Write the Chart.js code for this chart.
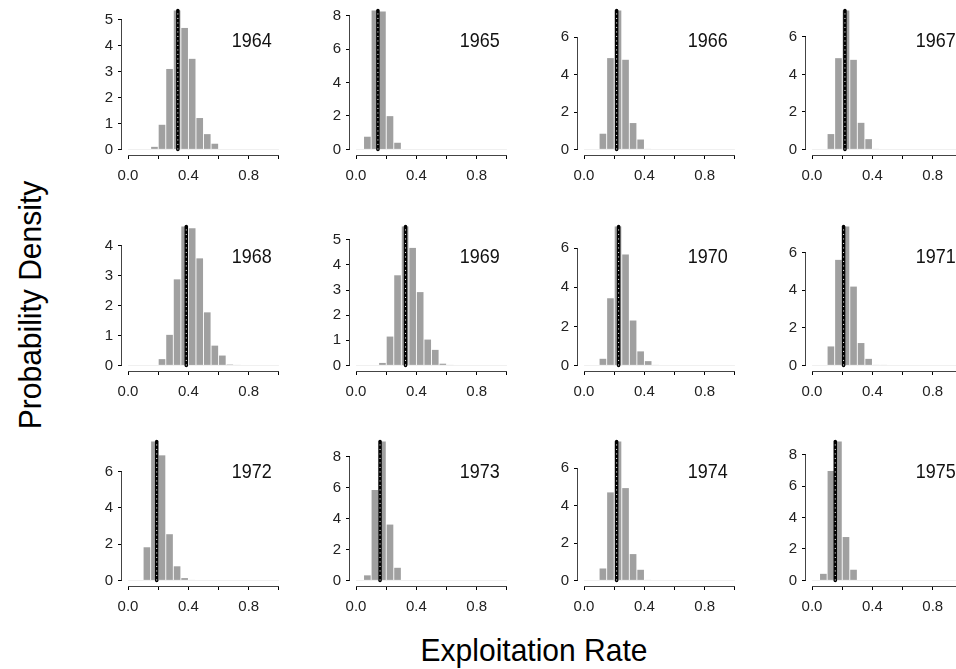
<!DOCTYPE html>
<html>
<head>
<meta charset="utf-8">
<script src="https://cdn.jsdelivr.net/npm/chart.js@4.4.1/dist/chart.umd.min.js"></script>
<style>
  html, body { margin: 0; padding: 0; background: #fff; overflow: hidden; }
  #wrap { position: relative; width: 956px; height: 669px; overflow: hidden; }
  canvas { position: absolute; }
  .title { position: absolute; font-family: "Liberation Sans", Arial, sans-serif; font-size: 30px; color: #000; white-space: nowrap; }
  #ytitle { left: 30px; top: 305px; transform: translate(-50%, -50%) rotate(-90deg) scaleY(1.05); }
  #xtitle { left: 534px; top: 650px; transform: translate(-50%, -50%) scaleY(1.05); }
</style>
</head>
<body>
<div id="wrap">
  <div class="title" id="ytitle">Probability Density</div>
  <div class="title" id="xtitle">Exploitation Rate</div>
</div>
<script>
// Data: histogram densities in 0.05-wide bins over [0, 1]
const years = [1964, 1965, 1966, 1967, 1968, 1969, 1970, 1971, 1972, 1973, 1974, 1975];
const binMids = [0.025, 0.075, 0.125, 0.175, 0.225, 0.275, 0.325, 0.375, 0.425, 0.475,
                 0.525, 0.575, 0.625, 0.675, 0.725, 0.775, 0.825, 0.875, 0.925, 0.975];

const dens1964 = [0, 0, 0, 0.1, 0.95, 3.1, 5.35, 4.68, 3.49, 1.21, 0.59, 0.22, 0, 0, 0, 0, 0, 0, 0, 0];
const dens1965 = [0, 0.76, 8.3, 8.25, 1.99, 0.4, 0, 0, 0, 0, 0, 0, 0, 0, 0, 0, 0, 0, 0, 0];
const dens1966 = [0, 0, 0.84, 4.88, 7.42, 4.79, 1.41, 0.53, 0.02, 0, 0, 0, 0, 0, 0, 0, 0, 0, 0, 0];
const dens1967 = [0, 0, 0.82, 4.87, 7.41, 4.78, 1.42, 0.55, 0.02, 0, 0, 0, 0, 0, 0, 0, 0, 0, 0, 0];
const dens1968 = [0, 0, 0, 0, 0.21, 1.02, 2.87, 4.63, 4.57, 3.57, 1.77, 0.66, 0.33, 0.03, 0.01, 0, 0, 0, 0, 0];
const dens1969 = [0, 0, 0, 0.1, 1.15, 3.59, 5.53, 4.68, 2.92, 1.03, 0.62, 0.07, 0.01, 0, 0, 0, 0, 0, 0, 0];
const dens1970 = [0, 0, 0.34, 3.44, 7.11, 5.68, 2.3, 0.72, 0.22, 0.02, 0, 0, 0, 0, 0, 0, 0, 0, 0, 0];
const dens1971 = [0, 0, 1.01, 5.61, 7.38, 4.19, 1.19, 0.35, 0.03, 0.02, 0, 0, 0, 0, 0, 0, 0, 0, 0, 0];
const dens1972 = [0, 0, 1.83, 7.66, 6.9, 2.55, 0.78, 0.13, 0.03, 0, 0, 0, 0, 0, 0, 0, 0, 0, 0, 0];
const dens1973 = [0, 0.33, 5.86, 9.0, 3.62, 0.82, 0, 0, 0, 0, 0, 0, 0, 0, 0, 0, 0, 0, 0, 0];
const dens1974 = [0, 0, 0.64, 4.71, 7.43, 4.94, 1.41, 0.57, 0.02, 0, 0, 0, 0, 0, 0, 0, 0, 0, 0, 0];
const dens1975 = [0, 0.42, 6.96, 8.83, 2.76, 0.68, 0, 0, 0, 0, 0, 0, 0, 0, 0, 0, 0, 0, 0, 0];

const densities = [dens1964, dens1965, dens1966, dens1967, dens1968, dens1969,
                   dens1970, dens1971, dens1972, dens1973, dens1974, dens1975];

// vertical reference line for each year
const medians = [0.33, 0.145, 0.216, 0.218, 0.386, 0.328, 0.229, 0.209, 0.19, 0.159, 0.216, 0.154];

const yTicks = [
  [0, 1, 2, 3, 4, 5], [0, 2, 4, 6, 8], [0, 2, 4, 6], [0, 2, 4, 6],
  [0, 1, 2, 3, 4], [0, 1, 2, 3, 4, 5], [0, 2, 4, 6], [0, 2, 4, 6],
  [0, 2, 4, 6], [0, 2, 4, 6, 8], [0, 2, 4, 6], [0, 2, 4, 6, 8]
];
const xTicks = [0, 0.2, 0.4, 0.6, 0.8, 1.0];
const xTickLabels = ['0.0', '', '0.4', '', '0.8', ''];

// Layout
const AXIS_W = 40, AXIS_H = 40, PAD_T = 22, PAD_R = 12;
const AREA_W = 163, AREA_H = 150;
const colLeft = [122, 350, 578, 806];
const rowTop = [5, 221, 436];
const FONT = '"Liberation Sans", Arial, sans-serif';

// R-style axis lines: only from first to last tick
const axisLines = {
  id: 'axisLines',
  afterDraw(chart) {
    const { ctx, chartArea, scales } = chart;
    const x = scales.x, y = scales.y;
    const yt = y.ticks;
    ctx.save();
    ctx.strokeStyle = '#444';
    ctx.lineWidth = 1;
    ctx.beginPath();
    const lx = Math.round(chartArea.left) - 0.5;
    ctx.moveTo(lx, y.getPixelForValue(yt[0].value));
    ctx.lineTo(lx, y.getPixelForValue(yt[yt.length - 1].value));
    const by = Math.round(chartArea.bottom) + 0.5;
    ctx.moveTo(x.getPixelForValue(xTicks[0]), by);
    ctx.lineTo(x.getPixelForValue(xTicks[xTicks.length - 1]), by);
    ctx.stroke();
    ctx.restore();
  }
};

const yearLabel = {
  id: 'yearLabel',
  afterDraw(chart, args, opts) {
    const { ctx, chartArea, scales } = chart;
    ctx.save();
    ctx.font = '18px ' + FONT;
    ctx.fillStyle = '#111';
    ctx.textAlign = 'center';
    ctx.textBaseline = 'middle';
    ctx.translate(scales.x.getPixelForValue(0.82), chartArea.top + 37);
    ctx.scale(1, 1.1);
    ctx.fillText(opts.text, 0, 0);
    ctx.restore();
  }
};

const wrap = document.getElementById('wrap');

years.forEach((year, i) => {
  const col = i % 4, row = Math.floor(i / 4);
  const dens = densities[i];
  const top = Math.max(...dens);

  const canvas = document.createElement('canvas');
  const w = AXIS_W + AREA_W + PAD_R, h = PAD_T + AREA_H + AXIS_H;
  canvas.width = w; canvas.height = h;
  canvas.style.width = w + 'px'; canvas.style.height = h + 'px';
  canvas.style.left = (colLeft[col] - AXIS_W) + 'px';
  canvas.style.top = (rowTop[row] - PAD_T) + 'px';
  wrap.appendChild(canvas);

  new Chart(canvas.getContext('2d'), {
    type: 'bar',
    data: {
      datasets: [
        {
          type: 'line',
          data: [{ x: medians[i], y: 0 }, { x: medians[i], y: top }],
          borderColor: '#fff',
          borderWidth: 1,
          borderDash: [1, 3.5],
          pointRadius: 0,
          order: 0
        },
        {
          type: 'line',
          data: [{ x: medians[i], y: 0 }, { x: medians[i], y: top }],
          borderColor: '#000',
          borderWidth: 3.5,
          borderCapStyle: 'round',
          pointRadius: 0,
          order: 1
        },
        {
          type: 'line',
          data: [{ x: 0, y: 0 }, { x: 1, y: 0 }],
          borderColor: '#f0f0f0',
          borderWidth: 1,
          pointRadius: 0,
          order: 2
        },
        {
          data: binMids.map((m, k) => ({ x: m, y: dens[k] })),
          backgroundColor: '#a0a0a0',
          borderWidth: 0,
          barPercentage: 0.88,
          categoryPercentage: 1,
          order: 3
        }
      ]
    },
    options: {
      responsive: false,
      animation: false,
      events: [],
      layout: { padding: { left: 0, top: PAD_T, right: PAD_R, bottom: 0 } },
      plugins: {
        legend: { display: false },
        tooltip: { enabled: false },
        yearLabel: { text: String(year) }
      },
      scales: {
        x: {
          type: 'linear',
          min: -0.04,
          max: 1.04,
          offset: false,
          afterBuildTicks: s => { s.ticks = xTicks.map(v => ({ value: v })); },
          afterFit: s => { s.height = AXIS_H; },
          border: { display: false },
          grid: { offset: false, drawOnChartArea: false, drawTicks: true, tickLength: 4, color: '#000' },
          ticks: {
            autoSkip: false,
            maxRotation: 0,
            padding: 8,
            color: '#222',
            font: { family: FONT, size: 15 },
            callback: (v, idx) => xTickLabels[idx]
          }
        },
        y: {
          min: -0.04 * top,
          max: 1.04 * top,
          afterBuildTicks: s => { s.ticks = yTicks[i].map(v => ({ value: v })); },
          afterFit: s => { s.width = AXIS_W; },
          border: { display: false },
          grid: { drawOnChartArea: false, drawTicks: true, tickLength: 4, color: '#000' },
          ticks: {
            padding: 5,
            color: '#222',
            font: { family: FONT, size: 15 },
            callback: v => String(v)
          }
        }
      }
    },
    plugins: [axisLines, yearLabel]
  });
});
</script>
</body>
</html>
